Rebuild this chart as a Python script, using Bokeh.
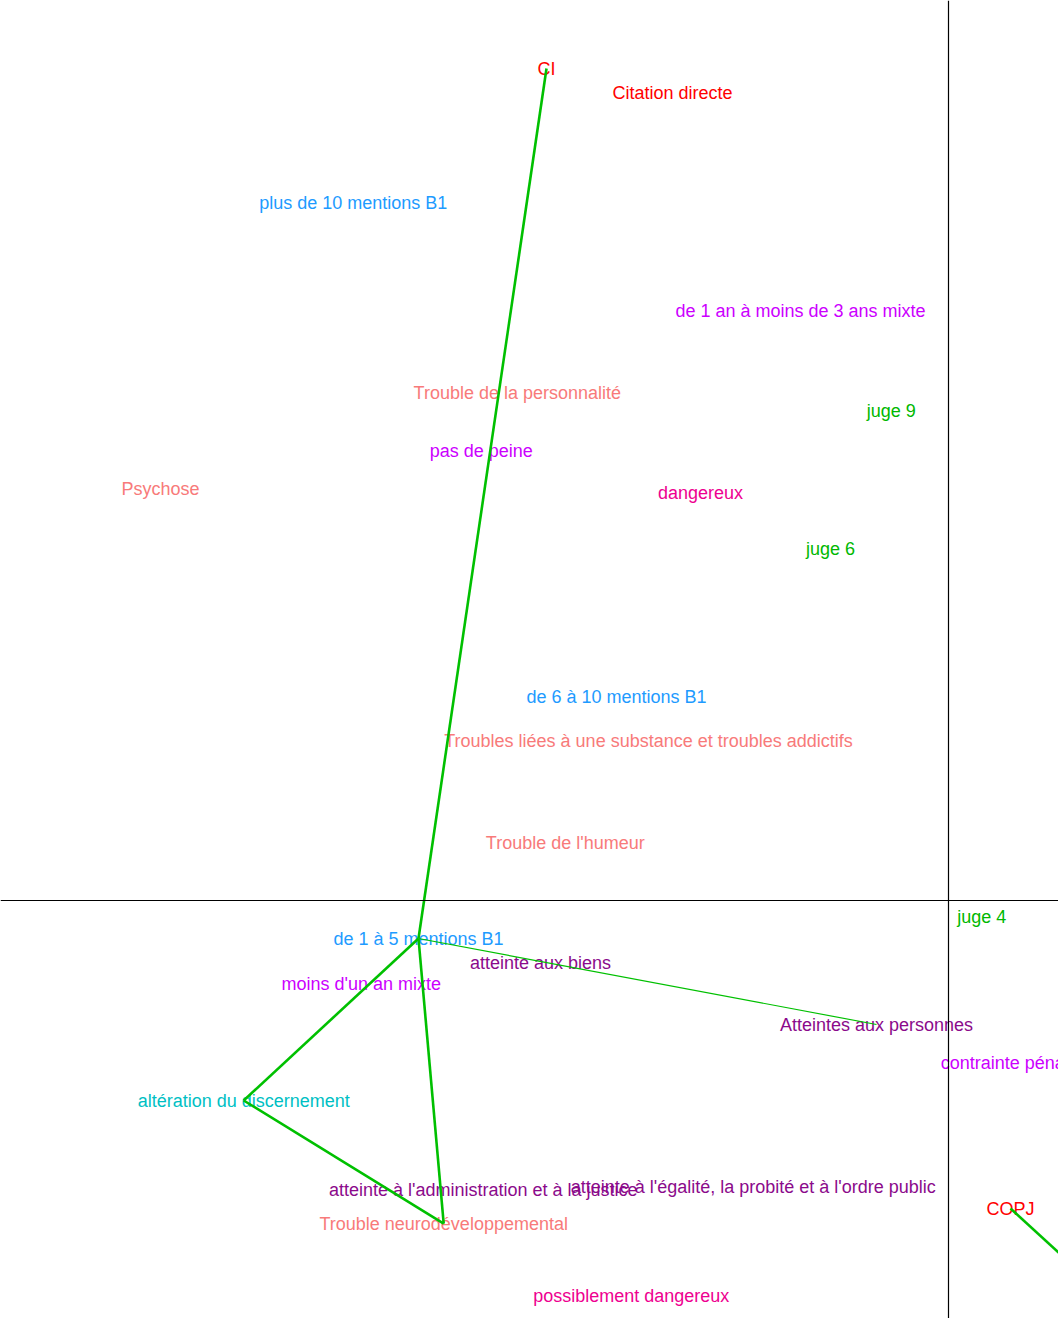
from bokeh.plotting import figure
from bokeh.models import ColumnDataSource, Span, Range1d
from bokeh.embed import file_html
from bokeh.resources import INLINE
from bokeh.core.properties import value

# Modalities (labels), their coordinates on dimensions 1 and 2, and group
labels = [
    "CI", "Citation directe", "plus de 10 mentions B1", "de 1 an à moins de 3 ans mixte",
    "Trouble de la personnalité", "juge 9", "pas de peine", "Psychose", "dangereux",
    "juge 6", "de 6 à 10 mentions B1", "Troubles liées à une substance et troubles addictifs",
    "Trouble de l'humeur", "juge 4", "de 1 à 5 mentions B1", "atteinte aux biens",
    "moins d'un an mixte", "Atteintes aux personnes", "contrainte pénale",
    "altération du discernement", "atteinte à l'administration et à la justice",
    "atteinte à l'égalité, la probité et à l'ordre public", "COPJ",
    "Trouble neurodéveloppemental", "possiblement dangereux",
]
dim1 = [-1.005, -0.690, -1.488, -0.370, -1.078, -0.143, -1.168, -1.970, -0.620,
        -0.295, -0.830, -0.750, -0.958, 0.083, -1.325, -1.020, -1.468, -0.180,
        0.153, -1.762, -1.163, -0.488, 0.155, -1.262, -0.793]
dim2 = [2.080, 2.018, 1.745, 1.475, 1.270, 1.225, 1.125, 1.028, 1.018,
        0.880, 0.508, 0.400, 0.145, -0.040, -0.095, -0.155, -0.208, -0.310,
        -0.405, -0.500, -0.723, -0.715, -0.770, -0.808, -0.988]
groups = ["proc", "proc", "b1", "peine", "trouble", "juge", "peine", "trouble", "dang",
          "juge", "b1", "trouble", "trouble", "juge", "b1", "infr", "peine", "infr",
          "peine", "alt", "infr", "infr", "proc", "trouble", "dang"]
group_colors = {
    "proc": "#FF0000", "b1": "#1E9BFF", "peine": "#CC00FF", "trouble": "#F87A7A",
    "juge": "#00B800", "dang": "#EE0090", "infr": "#8B0A8B", "alt": "#00BFC4",
}

# Connections (trajectory) between modalities
seg_from = ["CI", "de 1 à 5 mentions B1", "de 1 à 5 mentions B1",
            "altération du discernement", "de 1 à 5 mentions B1"]
seg_to = ["de 1 à 5 mentions B1", "altération du discernement",
          "Trouble neurodéveloppemental", "Trouble neurodéveloppemental",
          "Atteintes aux personnes"]
seg_width = [2.6, 2.6, 2.6, 2.6, 1.2]
# segment leaving the frame from COPJ
copj_out = (0.505, -1.090)

idx = {l: i for i, l in enumerate(labels)}

p = figure(width=1058, height=1318, output_backend="svg", toolbar_location=None,
           x_range=Range1d(-2.37, 0.275), y_range=Range1d(-1.045, 2.25),
           min_border=0, outline_line_color=None)
p.axis.visible = False
p.grid.visible = False

p.add_layout(Span(location=0, dimension="width", line_color="black", line_width=1.2))
p.add_layout(Span(location=0, dimension="height", line_color="black", line_width=1.2))

src = ColumnDataSource(dict(x=dim1, y=dim2, t=labels,
                            c=[group_colors[g] for g in groups]))
p.text(x="x", y="y", text="t", source=src, text_color="c",
       text_align="center", text_baseline="middle",
       text_font=value("Liberation Sans"), text_font_size="18px")

x0 = [dim1[idx[a]] for a in seg_from] + [dim1[idx["COPJ"]]]
y0 = [dim2[idx[a]] for a in seg_from] + [dim2[idx["COPJ"]]]
x1 = [dim1[idx[b]] for b in seg_to] + [copj_out[0]]
y1 = [dim2[idx[b]] for b in seg_to] + [copj_out[1]]
ssrc = ColumnDataSource(dict(x0=x0, y0=y0, x1=x1, y1=y1, w=seg_width + [2.6]))
p.segment(x0="x0", y0="y0", x1="x1", y1="y1", source=ssrc,
          line_color="#00C000", line_width="w")

open("out.html", "w").write(file_html(p, INLINE))
